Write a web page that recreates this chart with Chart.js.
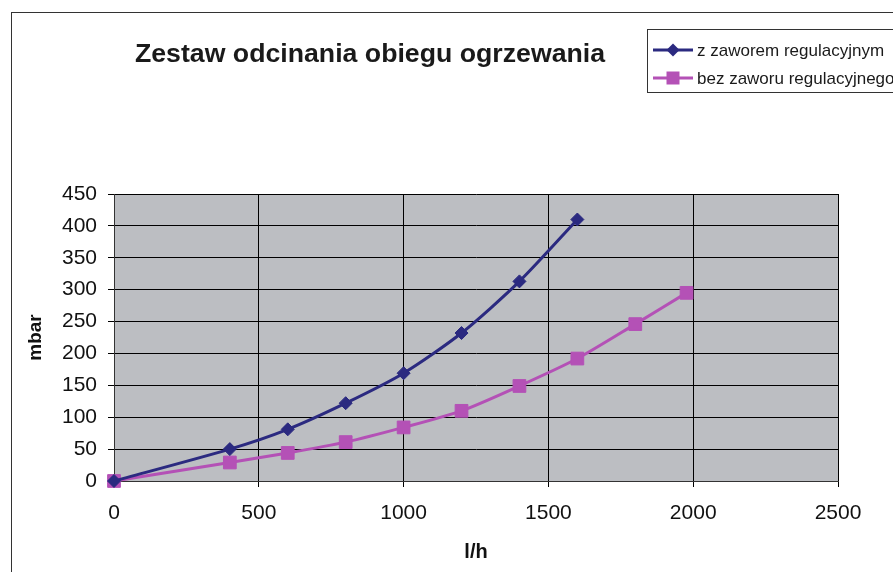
<!DOCTYPE html>
<html>
<head>
<meta charset="utf-8">
<script src="https://cdn.jsdelivr.net/npm/chart.js@4.4.1/dist/chart.umd.min.js"></script>
<style>
  html, body { margin: 0; padding: 0; background: #ffffff; }
  #wrap { position: relative; width: 893px; height: 572px; overflow: hidden; }
  #frame { position: absolute; left: 11px; top: 12px; width: 900px; height: 600px; border-left: 1px solid #333; border-top: 1px solid #333; }
  canvas { position: absolute; left: 0; top: 0; }
</style>
</head>
<body>
<div id="wrap">
  <div id="frame"></div>
  <canvas id="chart" width="893" height="572"></canvas>
</div>
<script>
var chartTitle = "Zestaw odcinania obiegu ogrzewania";
var seriesNames = ["z zaworem regulacyjnym", "bez zaworu regulacyjnego"];

// przepływ [l/h] i spadek ciśnienia [mbar]
var flowWith = [0, 400, 600, 800, 1000, 1200, 1400, 1600];
var mbarWith = [0, 50, 81, 122, 169, 232, 313, 410];

var flowWithout = [0, 400, 600, 800, 1000, 1200, 1400, 1600, 1800, 1977];
var mbarWithout = [0, 29, 44, 61, 84, 110, 149, 192, 246, 295];

var xTicks = [0, 500, 1000, 1500, 2000, 2500];
var yTicks = [0, 50, 100, 150, 200, 250, 300, 350, 400, 450];

var navy = "#2b2a80";
var pink = "#b451b6";
var fontFam = "'Liberation Sans', Arial, sans-serif";

function toPoints(xs, ys) {
    return xs.map(function (x, i) { return { x: x, y: ys[i] }; });
}

var plotBg = {
    id: 'plotBg',
    beforeDraw: function (chart) {
        var a = chart.chartArea, ctx = chart.ctx;
        ctx.save();
        ctx.fillStyle = "#bcbec2";
        ctx.fillRect(a.left, a.top, a.right - a.left, a.bottom - a.top);
        ctx.restore();
    }
};

var extras = {
    id: 'extras',
    afterDraw: function (chart) {
        var ctx = chart.ctx;
        ctx.save();
        // title
        ctx.fillStyle = "#1a1a1a";
        ctx.font = "bold 26.7px " + fontFam;
        ctx.textAlign = "center";
        ctx.textBaseline = "middle";
        ctx.fillText(chartTitle, 370, 55);
        // legend box
        ctx.strokeStyle = "#333";
        ctx.lineWidth = 1;
        ctx.fillStyle = "#fff";
        ctx.fillRect(647.5, 29.5, 260, 63);
        ctx.strokeRect(647.5, 29.5, 260, 63);
        var rows = [50, 78];
        chart.data.datasets.forEach(function (ds, i) {
            var y = rows[i];
            ctx.strokeStyle = ds.borderColor;
            ctx.lineWidth = 3;
            ctx.beginPath();
            ctx.moveTo(653, y);
            ctx.lineTo(693, y);
            ctx.stroke();
            ctx.fillStyle = ds.borderColor;
            ctx.beginPath();
            if (ds.pointStyle === 'rect') {
                ctx.rect(666.5, y - 6.5, 13, 13);
            } else {
                ctx.moveTo(673, y - 6.5);
                ctx.lineTo(679.5, y);
                ctx.lineTo(673, y + 6.5);
                ctx.lineTo(666.5, y);
                ctx.closePath();
            }
            ctx.fill();
            ctx.fillStyle = "#1a1a1a";
            ctx.font = "17px " + fontFam;
            ctx.textAlign = "left";
            ctx.fillText(ds.label, 697, y + 1);
        });
        ctx.restore();
    }
};

new Chart(document.getElementById('chart'), {
    type: 'line',
    data: {
        datasets: [{
            label: seriesNames[0],
            data: toPoints(flowWith, mbarWith),
            borderColor: navy,
            backgroundColor: navy,
            borderWidth: 3,
            pointStyle: 'rectRot',
            pointRadius: 6.5,
            pointBorderWidth: 1,
            tension: 0.25,
            clip: false
        }, {
            label: seriesNames[1],
            data: toPoints(flowWithout, mbarWithout),
            borderColor: pink,
            backgroundColor: pink,
            borderWidth: 3,
            pointStyle: 'rect',
            pointRadius: 9,
            pointBorderWidth: 1,
            tension: 0.25,
            clip: false
        }]
    },
    options: {
        responsive: false,
        animation: false,
        layout: { padding: { left: 0, top: 194, right: 55, bottom: 0 } },
        plugins: {
            legend: { display: false },
            tooltip: { enabled: false }
        },
        scales: {
            x: {
                type: 'linear',
                min: 0,
                max: 2500,
                afterBuildTicks: function (axis) {
                    axis.ticks = xTicks.map(function (v) { return { value: v }; });
                },
                afterFit: function (axis) { axis.height = 91; },
                ticks: {
                    color: "#111",
                    font: { family: fontFam, size: 21 },
                    padding: 14,
                    maxRotation: 0,
                    callback: function (v) { return String(v); }
                },
                grid: { color: "#000", lineWidth: 1, tickLength: 6 },
                border: { color: "#333", width: 1 },
                title: {
                    display: true,
                    text: "l/h",
                    color: "#111",
                    font: { family: fontFam, size: 20, weight: 'bold' },
                    padding: { top: 0, bottom: 8 }
                }
            },
            y: {
                min: 0,
                max: 450,
                afterBuildTicks: function (axis) {
                    axis.ticks = yTicks.map(function (v) { return { value: v }; });
                },
                afterFit: function (axis) { axis.width = 114; },
                ticks: {
                    color: "#111",
                    font: { family: fontFam, size: 21 },
                    padding: 11,
                    callback: function (v) { return String(v); }
                },
                grid: { color: "#000", lineWidth: 1, tickLength: 6 },
                border: { color: "#333", width: 1 },
                title: {
                    display: true,
                    text: "mbar",
                    color: "#111",
                    font: { family: fontFam, size: 19, weight: 'bold' },
                    padding: { top: 24, bottom: 0 }
                }
            }
        }
    },
    plugins: [plotBg, extras]
});
</script>
</body>
</html>
